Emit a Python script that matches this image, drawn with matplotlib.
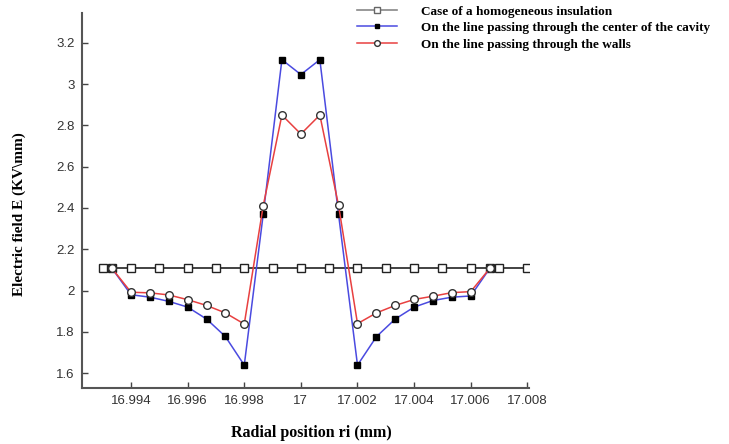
import matplotlib
matplotlib.use("Agg")
import matplotlib.pyplot as plt

# radial positions (mm)
x_homog = [16.993, 16.99333, 16.994, 16.995, 16.996, 16.997, 16.998, 16.999, 17.0,
           17.001, 17.002, 17.003, 17.004, 17.005, 17.006, 17.00667, 17.007, 17.008]
e_homog = [2.107] * len(x_homog)

x_cav = [16.99333, 16.994, 16.99467, 16.99533, 16.996, 16.99667, 16.99733, 16.998,
         16.99867, 16.99933, 17.0, 17.00067, 17.00133, 17.002, 17.00267, 17.00333,
         17.004, 17.00467, 17.00533, 17.006, 17.00667]
e_center = [2.107, 1.98, 1.968, 1.948, 1.92, 1.862, 1.778, 1.639,
            2.37, 3.118, 3.046, 3.118, 2.37, 1.639, 1.777, 1.862,
            1.92, 1.952, 1.968, 1.974, 2.107]
e_walls = [2.107, 1.992, 1.989, 1.979, 1.956, 1.928, 1.892, 1.838,
           2.411, 2.85, 2.758, 2.85, 2.413, 1.84, 1.892, 1.928,
           1.957, 1.973, 1.99, 1.995, 2.107]

xticks = [16.994, 16.996, 16.998, 17.0, 17.002, 17.004, 17.006, 17.008]
xtick_labels = ["16.994", "16.996", "16.998", "17", "17.002", "17.004", "17.006", "17.008"]
yticks = [1.6, 1.8, 2.0, 2.2, 2.4, 2.6, 2.8, 3.0, 3.2]
ytick_labels = ["1.6", "1.8", "2", "2.2", "2.4", "2.6", "2.8", "3", "3.2"]

serif = ["Liberation Serif", "DejaVu Serif"]
sans = ["Liberation Sans", "DejaVu Sans"]

fig = plt.figure(figsize=(7.29, 4.44), dpi=100)
ax = fig.add_axes([0.1118, 0.1255, 0.6139, 0.8452])

ax.plot(x_homog, e_homog, color="#222222", lw=1.2, marker="s", ms=5.5,
        mfc="white", mec="#222222", mew=1.0,
        label="Case of a homogeneous insulation", zorder=2)
ax.plot(x_cav, e_center, color="#4a4ae0", lw=1.1, marker="s", ms=4,
        mfc="black", mec="black",
        label="On the line passing through the center of the cavity", zorder=3)
ax.plot(x_cav, e_walls, color="#e84040", lw=1.1, marker="o", ms=5.5,
        mfc="white", mec="#333333", mew=1.0,
        label="On the line passing through the walls", zorder=4)

ax.set_xlim(16.99225, 17.00806)
ax.set_ylim(1.527, 3.344)
ax.set_xticks(xticks)
ax.set_xticklabels(xtick_labels, family=sans, fontsize=9.5, color="#333333")
ax.set_yticks(yticks)
ax.set_yticklabels(ytick_labels, family=sans, fontsize=9.5, color="#333333")
ax.tick_params(direction="in", length=4, width=1, colors="#444444", labelcolor="#333333", pad=5)

for side in ["top", "right"]:
    ax.spines[side].set_visible(False)
for side in ["left", "bottom"]:
    ax.spines[side].set_color("#555555")
    ax.spines[side].set_linewidth(1.5)

fig.text(0.427, 0.025, "Radial position ri (mm)", family=serif, fontweight="bold",
         fontsize=11.5, ha="center", va="center")
fig.text(0.026, 0.517, "Electric field E (KV\\mm)", family=serif, fontweight="bold",
         fontsize=11, rotation=90, ha="center", va="center")

leg = fig.legend(loc="upper left", bbox_to_anchor=(0.483, 1.0), frameon=False,
                 prop={"family": serif, "weight": "bold", "size": 9.5},
                 handlelength=3.0, labelspacing=0.33, handletextpad=1.8, borderaxespad=0,
                 markerscale=0.75)
# legend handle of the homogeneous case is grey in the original
leg.legend_handles[0].set_color("#888888")
leg.legend_handles[0].set_markeredgecolor("#666666")

fig.savefig("out.png", dpi=100)
